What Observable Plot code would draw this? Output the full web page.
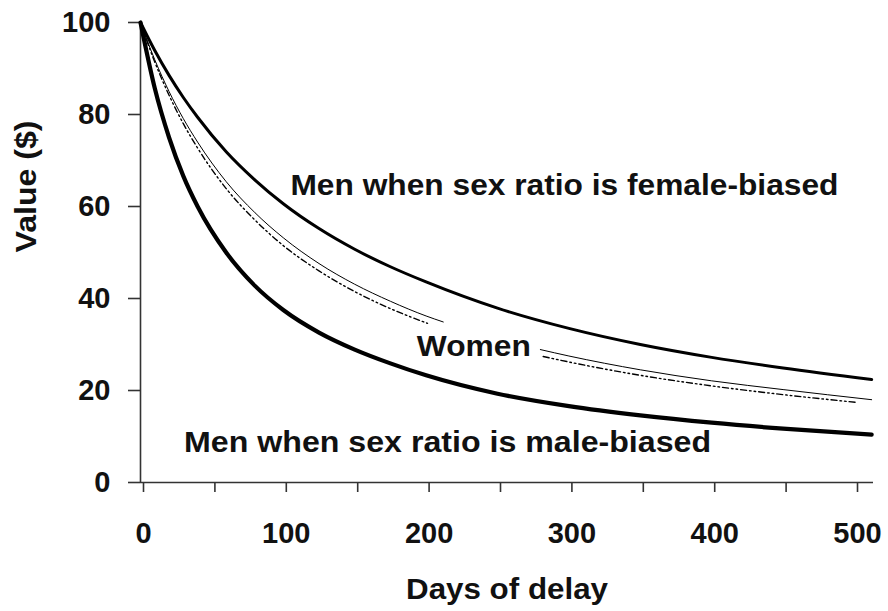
<!DOCTYPE html>
<html>
<head>
<meta charset="utf-8">
<script src="https://cdn.jsdelivr.net/npm/d3@7"></script>
<script src="https://cdn.jsdelivr.net/npm/@observablehq/plot@0.6"></script>
<style>
  html, body { margin: 0; padding: 0; background: #fff; }
  svg { display: block; }
</style>
</head>
<body>
<div id="chart"></div>
<script>
// ---- data ----
const days = [0, 10, 20, 30, 40, 60, 80, 100, 125, 150, 175, 200, 250, 300, 350, 400, 450, 512];
const menFemaleBiased = [100, 93.9, 88.5, 83.7, 79.4, 71.9, 65.8, 60.6, 55.2, 50.7, 46.9, 43.6, 37.9, 33.5, 30.0, 27.2, 24.9, 22.4];
const menMaleBiased   = [100, 85.7, 75.0, 66.6, 60.0, 50.0, 42.8, 37.5, 32.6, 28.9, 25.9, 23.3, 19.3, 16.6, 14.6, 13.0, 11.7, 10.4];

const womenSolidDaysA = [0, 10, 20, 30, 40, 60, 80, 100, 125, 150, 175, 200, 212];
const womenSolidA     = [100, 91.9, 85.0, 79.1, 74.0, 65.4, 58.7, 53.2, 47.6, 43.1, 39.4, 36.2, 34.9];
const womenSolidDaysB = [280, 300, 350, 400, 450, 512];
const womenSolidB     = [28.9, 27.5, 24.5, 22.1, 20.2, 18.0];

const womenDashDaysA = [0, 10, 20, 30, 40, 60, 80, 100, 125, 150, 175, 201];
const womenDashA     = [100, 91.4, 84.2, 78.0, 72.7, 63.9, 57.1, 51.5, 46.0, 41.5, 37.8, 34.6];
const womenDashDaysB = [282, 300, 350, 400, 450, 502];
const womenDashB     = [27.4, 26.2, 23.3, 21.0, 19.1, 17.4];

const xTicks = [0, 50, 100, 150, 200, 250, 300, 350, 400, 450, 500];
const yTicks = [0, 20, 40, 60, 80, 100];

const labelTexts = ["Men when sex ratio is female-biased", "Women", "Men when sex ratio is male-biased"];
const labelDays  = [105, 193.5, 30.5];
const labelVals  = [62.6, 27.6, 6.7];

// ---- tables ----
const toRows = (xs, ys, seg) => xs.map((d, i) => ({day: d, value: ys[i], seg}));
const femaleRows = toRows(days, menFemaleBiased, "f");
const maleRows = toRows(days, menMaleBiased, "m");
const womenSolidRows = [...toRows(womenSolidDaysA, womenSolidA, "a"), ...toRows(womenSolidDaysB, womenSolidB, "b")];
const womenDashRows = [...toRows(womenDashDaysA, womenDashA, "a"), ...toRows(womenDashDaysB, womenDashB, "b")];
const labels = labelTexts.map((t, i) => ({text: t, day: labelDays[i], value: labelVals[i]}));

const ink = "#111";
const font = "'Liberation Sans', Arial, Helvetica, sans-serif";

const chart = Plot.plot({
  width: 888,
  height: 611,
  marginLeft: 140,
  marginRight: 15,
  marginTop: 22,
  marginBottom: 129,
  x: {domain: [0, 513.3]},
  y: {domain: [0, 100]},
  style: {fontFamily: font, fontWeight: "bold", background: "#fff", color: ink},
  marks: [
    Plot.axisY({ticks: yTicks, tickSize: 12, tickPadding: 18, fontSize: 29, fontWeight: "bold", label: null, stroke: "#333", strokeWidth: 1.6, fill: ink}),
    Plot.axisX({ticks: xTicks, tickSize: 10, tickPadding: 30, fontSize: 29, fontWeight: "bold", label: null, dx: 3,
      tickFormat: d => d % 100 === 0 ? String(d) : "", stroke: "#333", strokeWidth: 1.6, fill: ink}),
    Plot.ruleX([0], {stroke: "#333", strokeWidth: 1.6}),
    Plot.ruleY([0], {stroke: "#333", strokeWidth: 1.6}),
    Plot.line(femaleRows, {x: "day", y: "value", z: "seg", curve: "monotone-x", stroke: "#000", strokeWidth: 3}),
    Plot.line(maleRows, {x: "day", y: "value", z: "seg", curve: "monotone-x", stroke: "#000", strokeWidth: 4.2}),
    Plot.line(womenSolidRows, {x: "day", y: "value", z: "seg", curve: "monotone-x", stroke: "#000", strokeWidth: 1}),
    Plot.line(womenDashRows, {x: "day", y: "value", z: "seg", curve: "monotone-x", stroke: "#000", strokeWidth: 1.4,
      strokeDasharray: "6,3,1.6,3,1.6,3"}),
    Plot.text(labels, {x: "day", y: "value", text: "text", textAnchor: "start", lineAnchor: "bottom",
      fontSize: 30, fontWeight: "bold", fill: ink}),
    Plot.text(["Days of delay"], {frameAnchor: "bottom", dy: 116, lineAnchor: "bottom", fontSize: 30, fontWeight: "bold", fill: ink}),
    Plot.text(["Value ($)"], {frameAnchor: "left", dx: -105, rotate: -90, lineAnchor: "bottom", fontSize: 30, fontWeight: "bold", fill: ink})
  ]
});

// stretch long labels to match the reference widths
const textWidths = {
  "Men when sex ratio is female-biased": 548,
  "Men when sex ratio is male-biased": 527,
  "Women": 114,
  "Days of delay": 202,
  "Value ($)": 132
};
d3.select(chart).selectAll("text").each(function () {
  const w = textWidths[this.textContent];
  if (w) {
    this.setAttribute("textLength", w);
    this.setAttribute("lengthAdjust", "spacingAndGlyphs");
  }
});

document.getElementById("chart").appendChild(chart);
</script>
</body>
</html>
